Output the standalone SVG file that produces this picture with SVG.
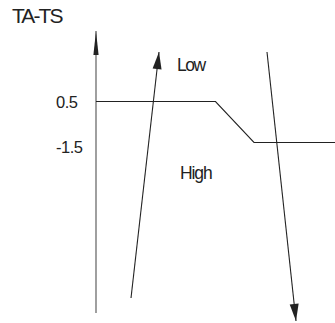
<svg xmlns="http://www.w3.org/2000/svg" width="335" height="323" viewBox="0 0 335 323">
<style>
text{font-family:"Liberation Sans",Arial,sans-serif;fill:#222}
.ln{stroke:#222;stroke-width:1.1;fill:none}
.ax{stroke:#888;stroke-width:1.6;fill:none}
</style>
<defs>
<marker id="axh" markerUnits="userSpaceOnUse" markerWidth="30" markerHeight="10" viewBox="-26 -5 28 10" refX="0" refY="0" orient="auto">
<path d="M0,0 L-24,-2.6 L-24,2.6 Z" fill="#222"/>
</marker>
<marker id="ah" markerUnits="userSpaceOnUse" markerWidth="20" markerHeight="12" viewBox="-19 -6 20 12" refX="0" refY="0" orient="auto">
<path d="M0,0 L-17,-4.5 L-17,4.5 Z" fill="#222"/>
</marker>
</defs>
<g id="title"><text x="12" y="23" font-size="21" letter-spacing="-1.9">TA-TS</text></g>
<g id="labels">
<text x="56" y="108" font-size="16.5" letter-spacing="-0.5">0.5</text>
<text x="56" y="152.5" font-size="16.5" letter-spacing="-0.5">-1.5</text>
<text x="177" y="71" font-size="17.5" letter-spacing="-1.5">Low</text>
<text x="180" y="179" font-size="17.5" letter-spacing="-1.1">High</text>
</g>
<g id="connectors">
<line class="ax" x1="96" y1="313" x2="96" y2="31" marker-end="url(#axh)"/>
<polyline class="ln" points="96,101.5 215.5,101.5 254,142.5 335,142.5"/>
<line class="ln" x1="131" y1="298" x2="159" y2="52" marker-end="url(#ah)"/>
<line class="ln" x1="267" y1="52" x2="296" y2="321" marker-end="url(#ah)"/>
</g>
</svg>
